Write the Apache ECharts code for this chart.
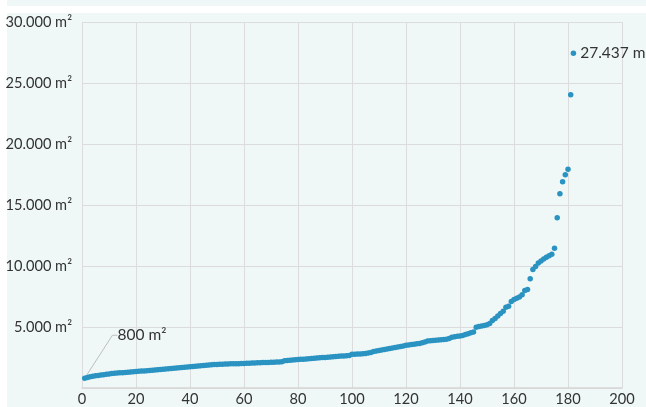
<!DOCTYPE html>
<html>
<head>
<meta charset="utf-8">
<script src="https://cdn.jsdelivr.net/npm/echarts@6/dist/echarts.min.js"></script>
<style>
  html, body { margin: 0; padding: 0; background: #fff; }
  .band { position: absolute; left: 7px; top: 0; width: 639px; height: 6px; background: #eff8f7; }
  .panel { position: absolute; left: 7px; top: 13px; width: 639px; height: 394px; background: #eff8f7; }
  #chart { position: absolute; left: 0; top: 0; width: 646px; height: 407px; }
</style>
</head>
<body>
<div class="band"></div>
<div class="panel"></div>
<div id="chart"></div>
<script>
// Fläche je Objekt (m²), aufsteigend sortiert
const areas = [
  800, 870, 920, 960, 1000, 1030, 1060, 1090, 1120, 1150,
  1180, 1200, 1220, 1240, 1260, 1280, 1300, 1320, 1340, 1360,
  1370, 1390, 1400, 1420, 1440, 1460, 1480, 1500, 1520, 1540,
  1560, 1570, 1590, 1610, 1640, 1660, 1680, 1700, 1720, 1740,
  1760, 1780, 1800, 1820, 1840, 1860, 1880, 1900, 1920, 1930,
  1940, 1950, 1960, 1970, 1980, 1985, 1990, 1995, 2000, 2010,
  2020, 2030, 2040, 2050, 2060, 2070, 2080, 2090, 2100, 2110,
  2120, 2130, 2140, 2160, 2240, 2260, 2280, 2300, 2320, 2340,
  2350, 2360, 2380, 2390, 2410, 2430, 2450, 2470, 2490, 2510,
  2530, 2550, 2570, 2590, 2610, 2620, 2630, 2640, 2660, 2760,
  2770, 2780, 2790, 2800, 2820, 2860, 2920, 2990, 3040, 3080,
  3120, 3160, 3200, 3240, 3280, 3310, 3360, 3400, 3450, 3500,
  3530, 3560, 3590, 3620, 3650, 3700, 3780, 3850, 3870, 3890,
  3910, 3930, 3950, 3970, 3990, 4050, 4150, 4200, 4240, 4270,
  4310, 4380, 4450, 4520, 4600, 4980, 5040, 5080, 5130, 5190,
  5280, 5540, 5700, 5900, 6100, 6300, 6620, 6700, 7090, 7260,
  7350, 7450, 7640, 7990, 8070, 8950, 9710, 9950, 10250, 10420,
  10580, 10720, 10850, 10960, 11450, 13950, 15920, 16900, 17470, 17930,
  24040, 27437
];
const xTicks = [0, 20, 40, 60, 80, 100, 120, 140, 160, 180, 200];
const yTicks = [0, 5000, 10000, 15000, 20000, 25000, 30000];
const unit = 'm²';

function fmt(v) {
  return String(v).replace(/\B(?=(\d{3})+(?!\d))/g, '.') + ' ' + unit;
}

const lastIdx = areas.length - 1;
const points = areas.map((v, i) => {
  const p = { value: [i + 1, v] };
  if (i === 0 || i === lastIdx) {
    p.label = { show: true, formatter: fmt(v) };
  }
  if (i === 0) {
    p.labelLine = { show: true };
  }
  return p;
});

const chart = echarts.init(document.getElementById('chart'));
const fontFamily = 'Lato, "Open Sans", sans-serif';
chart.setOption({
  animation: false,
  textStyle: { fontFamily: fontFamily },
  grid: { left: 82, right: 24, top: 22, bottom: 17 },
  xAxis: {
    type: 'value',
    min: xTicks[0],
    max: xTicks[xTicks.length - 1],
    interval: xTicks[1] - xTicks[0],
    axisLine: { show: true, lineStyle: { color: '#d6d6d6', width: 1.5 } },
    axisTick: { show: false },
    axisLabel: { color: '#333', fontSize: 14.6, margin: 4, fontFamily: fontFamily },
    splitLine: { show: true, lineStyle: { color: '#dcdcdc', width: 1 } }
  },
  yAxis: {
    type: 'value',
    min: yTicks[0],
    max: yTicks[yTicks.length - 1],
    interval: yTicks[1] - yTicks[0],
    axisLine: { show: false },
    axisTick: { show: false },
    axisLabel: {
      color: '#333', fontSize: 14.6, margin: 10, fontFamily: fontFamily,
      formatter: v => (v === 0 ? '' : fmt(v))
    },
    splitLine: { show: true, lineStyle: { color: '#dcdcdc', width: 1 } }
  },
  series: [
    {
      type: 'scatter',
      symbolSize: 5.5,
      itemStyle: { color: '#2a93c2', opacity: 1 },
      label: {
        show: false,
        position: 'right',
        distance: 4,
        color: '#333',
        fontSize: 15.5,
        fontFamily: fontFamily
      },
      labelLine: {
        show: false,
        length2: 5,
        lineStyle: { color: '#bdbdbd', width: 1 }
      },
      labelLayout: function (params) {
        if (params.dataIndex === 0) {
          return { dx: 26, dy: -43 };
        }
        return {};
      },
      data: points
    }
  ]
});
</script>
</body>
</html>
